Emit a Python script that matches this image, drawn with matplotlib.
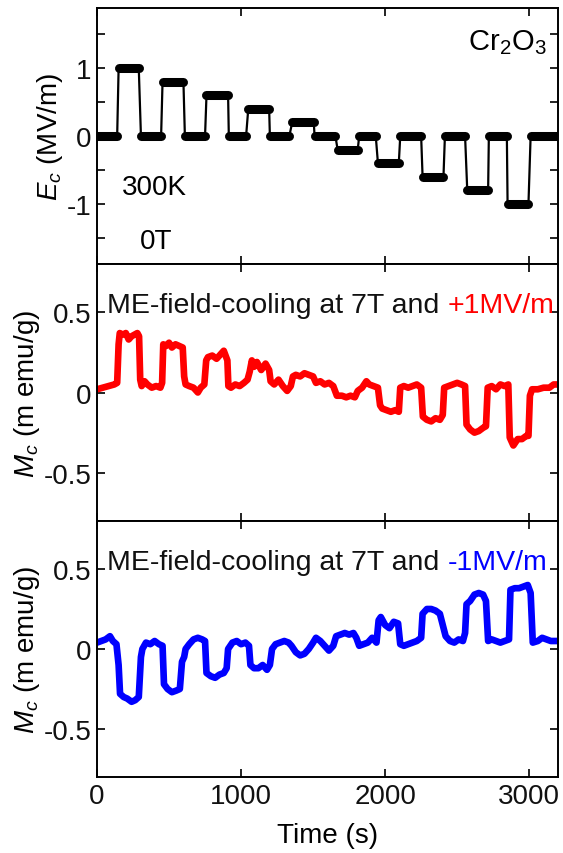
import matplotlib
matplotlib.use("Agg")
import matplotlib.pyplot as plt
from matplotlib.ticker import FixedLocator, FuncFormatter

plt.rcParams['font.family'] = ['Liberation Sans', 'DejaVu Sans']
plt.rcParams['mathtext.fontset'] = 'custom'
plt.rcParams['mathtext.rm'] = 'Liberation Sans'
plt.rcParams['mathtext.it'] = 'Liberation Sans:italic'
plt.rcParams['axes.unicode_minus'] = False

# ---- Data ----
# Electric field plateaus (start time, end time, level)
ec_start = [0, 150, 305, 455, 610, 760, 915, 1050, 1200, 1355, 1510, 1670, 1820, 1950, 2105, 2260, 2415, 2570, 2720, 2850, 3010]
ec_end   = [140, 290, 445, 600, 750, 910, 1035, 1195, 1335, 1505, 1655, 1810, 1935, 2095, 2250, 2405, 2555, 2715, 2845, 2995, 3200]
ec_level = [0, 1.0, 0, 0.8, 0, 0.6, 0, 0.4, 0, 0.2, 0, -0.2, 0, -0.4, 0, -0.6, 0, -0.8, 0, -1.0, 0]

red_t = [0, 40, 80, 120, 140, 150, 158, 180, 200, 220, 240, 260, 280, 292, 300, 310, 330, 350, 380, 410, 440, 452,
         460, 480, 500, 520, 545, 570, 595, 605, 615, 640, 670, 700, 720, 745, 758, 770, 800, 830, 860, 880, 905,
         912, 930, 960, 990, 1020, 1045, 1060, 1075, 1090, 1110, 1140, 1170, 1195, 1205, 1230, 1260, 1290, 1320,
         1345, 1360, 1380, 1410, 1440, 1470, 1500, 1520, 1550, 1580, 1610, 1640, 1665, 1700, 1730, 1760, 1790,
         1810, 1840, 1870, 1890, 1920, 1950, 1965, 1980, 2010, 2040, 2070, 2095, 2105, 2130, 2160, 2190, 2220,
         2250, 2262, 2290, 2320, 2350, 2380, 2400, 2410, 2440, 2470, 2500, 2530, 2555, 2565, 2590, 2620, 2650,
         2680, 2700, 2712, 2740, 2770, 2800, 2830, 2855, 2865, 2890, 2920, 2950, 2980, 2995, 3005, 3020, 3060,
         3100, 3140, 3170, 3200]
red_m = [0.02, 0.03, 0.04, 0.05, 0.06, 0.30, 0.37, 0.36, 0.37, 0.33, 0.35, 0.36, 0.37, 0.35, 0.08, 0.04, 0.07, 0.05,
         0.03, 0.04, 0.03, 0.06, 0.30, 0.29, 0.31, 0.28, 0.30, 0.29, 0.28, 0.10, 0.05, 0.04, 0.03, 0.00, 0.03, 0.05,
         0.20, 0.22, 0.23, 0.21, 0.24, 0.26, 0.20, 0.04, 0.03, 0.05, 0.04, 0.06, 0.08, 0.13, 0.20, 0.16, 0.19, 0.14,
         0.18, 0.14, 0.07, 0.05, 0.08, 0.04, 0.01, 0.04, 0.10, 0.11, 0.10, 0.12, 0.11, 0.10, 0.06, 0.07, 0.05, 0.06,
         0.04, -0.02, -0.02, -0.03, -0.02, -0.03, 0.01, 0.03, 0.07, 0.05, 0.04, 0.03, -0.08, -0.10, -0.11, -0.12,
         -0.11, -0.12, 0.03, 0.04, 0.03, 0.04, 0.05, 0.03, -0.15, -0.17, -0.18, -0.16, -0.17, -0.14, 0.03, 0.04,
         0.05, 0.06, 0.05, 0.04, -0.20, -0.23, -0.25, -0.24, -0.22, -0.21, 0.03, 0.04, 0.02, 0.05, 0.04, 0.05,
         -0.28, -0.33, -0.29, -0.29, -0.27, -0.27, -0.02, 0.02, 0.02, 0.03, 0.03, 0.05, 0.05]

blue_t = [0, 30, 60, 90, 110, 135, 150, 160, 185, 210, 240, 265, 290, 305, 315, 340, 370, 400, 430, 455, 465, 490,
          520, 550, 575, 590, 605, 615, 640, 670, 700, 730, 750, 760, 790, 820, 850, 880, 900, 910, 940, 970, 1000,
          1030, 1055, 1065, 1090, 1120, 1150, 1180, 1200, 1215, 1240, 1270, 1300, 1330, 1350, 1380, 1410, 1440,
          1470, 1500, 1520, 1550, 1580, 1610, 1640, 1660, 1690, 1720, 1750, 1780, 1800, 1820, 1850, 1880, 1910,
          1940, 1955, 1970, 2000, 2030, 2060, 2090, 2105, 2130, 2160, 2190, 2220, 2250, 2260, 2290, 2320, 2350,
          2380, 2400, 2420, 2450, 2480, 2510, 2540, 2555, 2565, 2590, 2620, 2650, 2680, 2700, 2715, 2740, 2770,
          2800, 2830, 2860, 2870, 2900, 2930, 2960, 2990, 3010, 3025, 3060, 3090, 3120, 3150, 3180, 3200]
blue_m = [0.04, 0.05, 0.06, 0.08, 0.05, 0.03, -0.10, -0.28, -0.30, -0.31, -0.33, -0.32, -0.30, -0.05, 0.00, 0.04,
          0.03, 0.05, 0.03, 0.02, -0.22, -0.25, -0.27, -0.26, -0.25, -0.08, -0.05, 0.00, 0.03, 0.06, 0.07, 0.06,
          0.05, -0.15, -0.17, -0.18, -0.16, -0.15, -0.12, 0.00, 0.04, 0.05, 0.03, 0.04, 0.02, -0.10, -0.12, -0.12,
          -0.10, -0.13, -0.10, 0.00, 0.03, 0.04, 0.05, 0.04, 0.02, -0.02, -0.04, -0.03, 0.00, 0.04, 0.07, 0.05,
          0.02, -0.01, 0.02, 0.08, 0.09, 0.10, 0.09, 0.10, 0.07, 0.02, 0.03, 0.04, 0.07, 0.04, 0.18, 0.20, 0.15,
          0.13, 0.17, 0.16, 0.03, 0.02, 0.03, 0.04, 0.05, 0.07, 0.22, 0.25, 0.25, 0.24, 0.22, 0.15, 0.08, 0.05,
          0.04, 0.06, 0.05, 0.10, 0.28, 0.30, 0.34, 0.35, 0.34, 0.30, 0.05, 0.06, 0.05, 0.04, 0.05, 0.06, 0.37,
          0.38, 0.38, 0.39, 0.40, 0.35, 0.04, 0.05, 0.07, 0.06, 0.05, 0.05, 0.05]

x_ticks = [0, 1000, 2000, 3000]
ec_ticks = [-1, 0, 1]
m_ticks = [-0.5, 0, 0.5]

# ---- Figure ----
W, H = 563, 854
fig = plt.figure(figsize=(W / 100, H / 100), dpi=100)
left = 97 / W
width = (558 - 97) / W
panels_px = [(9, 265), (265, 522), (522, 778)]
axes = []
for (t, b) in panels_px:
    ax = fig.add_axes([left, 1 - b / H, width, (b - t) / H])
    axes.append(ax)
ax1, ax2, ax3 = axes

fmt = FuncFormatter(lambda v, p: '%g' % v)
FS = 20
for ax in axes:
    ax.set_xlim(0, 3200)
    ax.xaxis.set_major_locator(FixedLocator(x_ticks))
    ax.tick_params(direction='in', which='both', top=True, right=True, length=6, width=1.3,
                   labelsize=FS, pad=4, colors='#111111')
    for s in ax.spines.values():
        s.set_linewidth(1.4)
    ax.yaxis.set_major_formatter(fmt)
    ax.xaxis.set_major_formatter(fmt)

for ax in (ax1, ax2):
    ax.tick_params(labelbottom=False)

# Top panel
ax1.set_ylim(-1.89, 1.89)
ax1.yaxis.set_major_locator(FixedLocator(ec_ticks))
ax1.yaxis.set_minor_locator(FixedLocator([-1.5, -0.5, 0.5, 1.5]))
path_t, path_v = [], []
for s, e, l in zip(ec_start, ec_end, ec_level):
    path_t += [s, e]
    path_v += [l, l]
ax1.plot(path_t, path_v, color='black', lw=1.6, zorder=2)
for s, e, l in zip(ec_start, ec_end, ec_level):
    ax1.plot([s, e], [l, l], color='black', lw=6.5, solid_capstyle='round', zorder=3)
ax1.set_ylabel('$E_c$ (MV/m)', fontsize=FS, labelpad=1)
ax1.text(0.975, 0.87, 'Cr$_2$O$_3$', transform=ax1.transAxes, ha='right', va='center', fontsize=FS + 1)
ax1.text(0.055, 0.30, '300K', transform=ax1.transAxes, ha='left', va='center', fontsize=FS)
ax1.text(0.092, 0.09, '0T', transform=ax1.transAxes, ha='left', va='center', fontsize=FS)

# Middle panel
ax2.set_ylim(-0.8, 0.8)
ax2.yaxis.set_major_locator(FixedLocator(m_ticks))
ax2.plot(red_t, red_m, color='#ff0000', lw=4.8, solid_joinstyle='round', solid_capstyle='round')
ax2.set_ylabel('$M_c$ (m emu/g)', fontsize=FS, labelpad=1)

# Bottom panel
ax3.set_ylim(-0.8, 0.8)
ax3.yaxis.set_major_locator(FixedLocator(m_ticks))
ax3.plot(blue_t, blue_m, color='#0000ff', lw=4.8, solid_joinstyle='round', solid_capstyle='round')
ax3.set_ylabel('$M_c$ (m emu/g)', fontsize=FS, labelpad=1)
ax3.set_xlabel('Time (s)', fontsize=FS, labelpad=10)

ANN = 20.5
def two_color(ax, y, black, colored, color):
    t1 = ax.text(0.022, y, black, transform=ax.transAxes, ha='left', va='center', fontsize=ANN, color='#111111')
    fig.canvas.draw()
    bb = t1.get_window_extent()
    inv = ax.transAxes.inverted()
    x_end = inv.transform((bb.x1, bb.y0))[0]
    ax.text(x_end, y, colored, transform=ax.transAxes, ha='left', va='center', fontsize=ANN, color=color)

two_color(ax2, 0.84, 'ME-field-cooling at 7T and ', '+1MV/m', '#ff0000')
two_color(ax3, 0.84, 'ME-field-cooling at 7T and ', '-1MV/m', '#0000ff')

fig.savefig('out.png', dpi=100)
